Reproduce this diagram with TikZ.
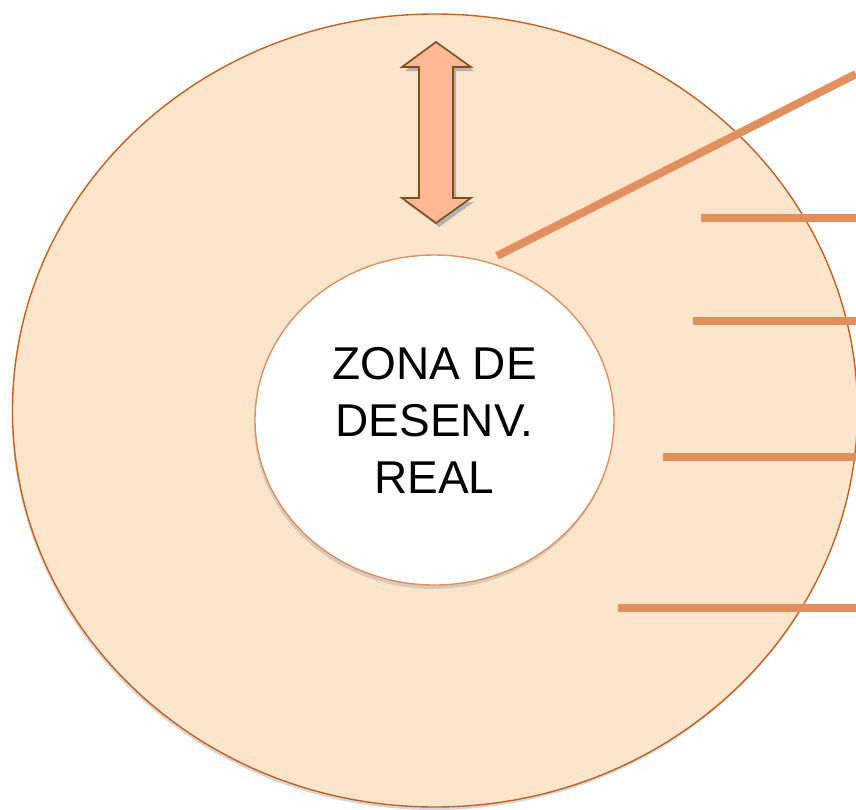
\documentclass[tikz,border=0pt]{standalone}
\usepackage{fontspec}
\setsansfont{Liberation Sans}
\usetikzlibrary{shapes.geometric, shadows, positioning}
\definecolor{zonefill}{RGB}{253,229,204}
\definecolor{zoneedge}{RGB}{196,96,34}
\definecolor{barline}{RGB}{226,143,94}
\definecolor{arrowfill}{RGB}{255,184,150}
\definecolor{arrowedge}{RGB}{125,78,22}

\begin{document}
\begin{tikzpicture}[
  x=1pt, y=-1pt,
  outer/.style={ellipse, draw=zoneedge, line width=1.4pt, fill=zonefill,
                minimum width=845pt, minimum height=793pt, inner sep=0pt,
                drop shadow={shadow xshift=-1pt, shadow yshift=-3pt, fill=black!30}},
  innerzone/.style={ellipse, draw=barline, line width=1.4pt, fill=white,
                minimum width=359pt, minimum height=330pt, inner sep=0pt,
                font=\sffamily\fontsize{46}{57}\selectfont, align=center,
                drop shadow={shadow xshift=-1pt, shadow yshift=-4pt, fill=black!30}},
  bar/.style={draw=barline, line width=8pt},
  updown/.style={draw=arrowedge, line width=1.6pt, fill=arrowfill, line join=miter},
]
  \useasboundingbox (0,0) rectangle (856,809);

  \node[outer] (zdp) at (435,410.5) {};
  \node[innerzone] (zdr) at (434.5,420) {ZONA DE\\DESENV.\\REAL};

  % double arrow, with its shadow
  \fill[black!30, xshift=3pt, yshift=-4pt]
    (436,42) -- (471,67) -- (453,67) -- (453,198) -- (471,198) -- (436,223)
    -- (402,198) -- (419,198) -- (419,67) -- (402,67) -- cycle;
  \draw[updown]
    (436,42) -- (471,67) -- (453,67) -- (453,198) -- (471,198) -- (436,223)
    -- (402,198) -- (419,198) -- (419,67) -- (402,67) -- cycle;

  % lines out to the right
  \coordinate (dfoot) at (497,256);
  \coordinate (dtop) at (856,74);
  \draw[bar] (dfoot) -- (dtop);
  \foreach \y/\x [count=\i] in {217.7/701, 320.7/693, 456.7/663, 607.7/618} {
    \coordinate (bs\i) at (\x,\y);
    \coordinate (be\i) at (856,\y);
    \draw[bar] (bs\i) -- (be\i);
  }
\end{tikzpicture}
\end{document}
